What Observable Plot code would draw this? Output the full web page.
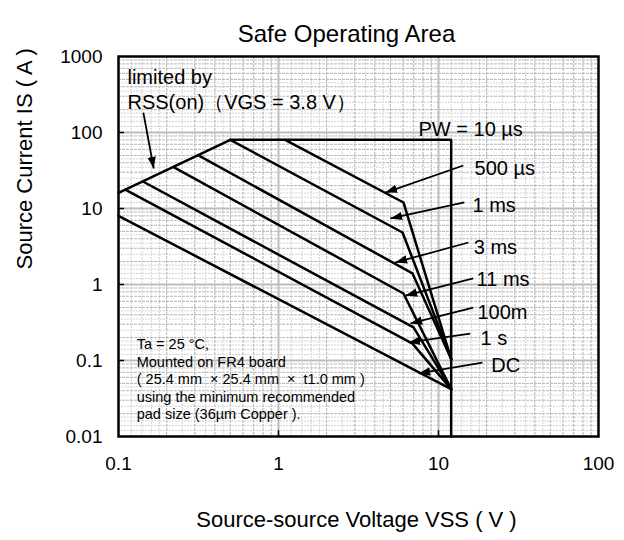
<!DOCTYPE html>
<html><head><meta charset="utf-8">
<script src="https://cdn.jsdelivr.net/npm/d3@7"></script>
<script src="https://cdn.jsdelivr.net/npm/@observablehq/plot@0.6"></script>
<style>body{margin:0;background:#fff}</style>
</head><body><div id="chart"></div>
<script>
// ---- tick labels ----
const xTicks = [0.1, 1, 10, 100];
const xLabels = ["0.1", "1", "10", "100"];
const yTicks = [0.01, 0.1, 1, 10, 100, 1000];
const yLabels = ["0.01", "0.1", "1", "10", "100", "1000"];

// ---- SOA curves (VSS [V], IS [A]) ----
const seriesNames = ["PW = 10 µs", "500 µs", "1 ms", "3 ms", "11 ms", "100m", "1 s", "DC"];
const vss10us = [0.1, 0.5, 12, 12];      const is10us = [16, 80, 80, 0.01];
const vss500us = [1.1, 6.04, 12];        const is500us = [80, 12.0, 0.105];
const vss1ms = [0.5, 5.96, 12];          const is1ms = [80, 4.83, 0.105];
const vss3ms = [0.316, 6.88, 12];        const is3ms = [50, 1.40, 0.105];
const vss11ms = [0.221, 6.04, 12];       const is11ms = [35, 0.762, 0.042];
const vss100ms = [0.143, 6.98, 12];      const is100ms = [22.5, 0.272, 0.042];
const vss1s = [0.111, 6.88, 12];         const is1s = [17.6, 0.167, 0.042];
const vssDC = [0.1, 12];                 const isDC = [8.0, 0.042];

// ---- curve labels ----
const labelText = ["PW = 10 µs", "500 µs", "1 ms", "3 ms", "11 ms", "100m", "1 s", "DC"];
const labelX = [7.5, 16.8, 16.3, 16.6, 17.3, 17.5, 18.3, 21.4];
const labelY = [109, 33.6, 10.9, 3.07, 1.16, 0.428, 0.195, 0.086];

// ---- arrows (label -> curve) ----
const arrowX1 = [0.143, 14.3, 14.5, 15.4, 16.5, 16.5, 15.8, 18.8];
const arrowY1 = [183, 36.8, 12.0, 3.57, 1.20, 0.498, 0.226, 0.094];
const arrowX2 = [0.166, 4.66, 5.01, 5.38, 6.22, 6.68, 6.49, 7.50];
const arrowY2 = [33.6, 16.2, 7.39, 1.95, 0.716, 0.307, 0.173, 0.0675];

// ---- notes ----
const limitText = ["limited by", "RSS(on)（VGS = 3.8 V）"];
const limitX = [0.1138, 0.1138];
const limitY = [530, 248];
const noteText = [
  "Ta = 25 °C,",
  "Mounted on FR4 board",
  "( 25.4 mm \u00a0× 25.4 mm \u00a0× \u00a0t1.0 mm )",
  "using the minimum recommended",
  "pad size (36µm Copper )."
];
const noteX = [0.13, 0.13, 0.13, 0.13, 0.13];
const noteY = [0.1625, 0.0941, 0.0562, 0.0326, 0.0195];

const titleText = "Safe Operating Area";
const xTitle = "Source-source Voltage VSS ( V )";
const yTitle = "Source Current IS ( A )";

// ---- build tables ----
const seriesX = [vss10us, vss500us, vss1ms, vss3ms, vss11ms, vss100ms, vss1s, vssDC];
const seriesY = [is10us, is500us, is1ms, is3ms, is11ms, is100ms, is1s, isDC];
const curves = seriesNames.flatMap((s, i) => seriesX[i].map((x, j) => ({series: s, x, y: seriesY[i][j]})));
const labels = labelText.map((t, i) => ({t, x: labelX[i], y: labelY[i]}));
const arrows = arrowX1.map((x1, i) => ({x1, y1: arrowY1[i], x2: arrowX2[i], y2: arrowY2[i]}));
const limits = limitText.map((t, i) => ({t, x: limitX[i], y: limitY[i]}));
const notes = noteText.map((t, i) => ({t, x: noteX[i], y: noteY[i]}));

// grid positions
const decX = [0.1, 1, 10];
const decY = [0.01, 0.1, 1, 10, 100];
const kMajor = [2, 3, 4, 5, 6, 7, 8, 9];
const kMinor = [1.2, 1.4, 1.6, 1.8, 2.5, 3.5, 4.5];
const gx1 = decX.flatMap(d => kMajor.map(k => k * d));
const gx2 = decX.flatMap(d => kMinor.map(k => k * d));
const gy1 = decY.flatMap(d => kMajor.map(k => k * d));
const gy2 = decY.flatMap(d => kMinor.map(k => k * d));
const decLinesX = [1, 10];
const decLinesY = [0.1, 1, 10, 100];

const chart = Plot.plot({
  width: 624,
  height: 540,
  marginLeft: 118,
  marginRight: 26,
  marginTop: 56,
  marginBottom: 104,
  style: {fontFamily: "'Liberation Sans', Arial, sans-serif", color: "black", background: "white", overflow: "visible"},
  x: {type: "log", domain: [0.1, 100]},
  y: {type: "log", domain: [0.01, 1000]},
  marks: [
    Plot.ruleX(gx2, {stroke: "#d2d2d2", strokeWidth: 1, strokeDasharray: "2,1"}),
    Plot.ruleY(gy2, {stroke: "#d2d2d2", strokeWidth: 1, strokeDasharray: "2,1"}),
    Plot.ruleX(gx1, {stroke: "#b4b4b4", strokeWidth: 1, strokeDasharray: "3,1"}),
    Plot.ruleY(gy1, {stroke: "#b4b4b4", strokeWidth: 1, strokeDasharray: "3,1"}),
    Plot.ruleX(decLinesX, {stroke: "#bdbdbd", strokeWidth: 2}),
    Plot.ruleY(decLinesY, {stroke: "#bdbdbd", strokeWidth: 2}),
    Plot.ruleY(decLinesY, {x1: 0.1, x2: 0.109, stroke: "black", strokeWidth: 1.5}),
    Plot.ruleX(decLinesX, {y1: 0.01, y2: 0.0119, stroke: "black", strokeWidth: 1.5}),
    Plot.frame({stroke: "black", strokeWidth: 2.5}),
    Plot.line(curves, {x: "x", y: "y", z: "series", stroke: "black", strokeWidth: 2.5, strokeLinejoin: "miter"}),
    Plot.link(arrows, {x1: "x1", y1: "y1", x2: "x2", y2: "y2", stroke: "black", strokeWidth: 1.8, markerEnd: "arrow"}),
    Plot.text(labels, {x: "x", y: "y", text: "t", textAnchor: "start", fontSize: 20}),
    Plot.text(limits, {x: "x", y: "y", text: "t", textAnchor: "start", fontSize: 20}),
    Plot.text(notes, {x: "x", y: "y", text: "t", textAnchor: "start", fontSize: 14.5}),
    Plot.axisX(xTicks, {tickSize: 0, tickPadding: 20, fontSize: 19, tickFormat: d => xLabels[xTicks.indexOf(d)], label: null}),
    Plot.axisY(yTicks, {tickSize: 0, tickPadding: 16, fontSize: 19, tickFormat: d => yLabels[yTicks.indexOf(d)], label: null}),
    Plot.text([titleText], {frameAnchor: "top", text: d => d, dx: -12, dy: -32, fontSize: 24}),
    Plot.text([xTitle], {frameAnchor: "bottom", text: d => d, dx: -2, dy: 90, fontSize: 22}),
    Plot.text([yTitle], {frameAnchor: "left", text: d => d, rotate: -90, dx: -94, dy: 23, fontSize: 22})
  ]
});

chart.querySelectorAll("marker").forEach(m => {
  m.setAttribute("viewBox", "-10 -5 10 10");
  m.setAttribute("markerWidth", "6.5");
  m.setAttribute("markerHeight", "6.5");
  m.setAttribute("refX", "0");
  m.setAttribute("refY", "0");
  m.setAttribute("fill", "black");
  m.setAttribute("stroke", "none");
  m.innerHTML = '<path d="M-10,-3.6L0,0L-10,3.6Z"></path>';
});

document.getElementById("chart").appendChild(chart);
</script>
</body></html>
